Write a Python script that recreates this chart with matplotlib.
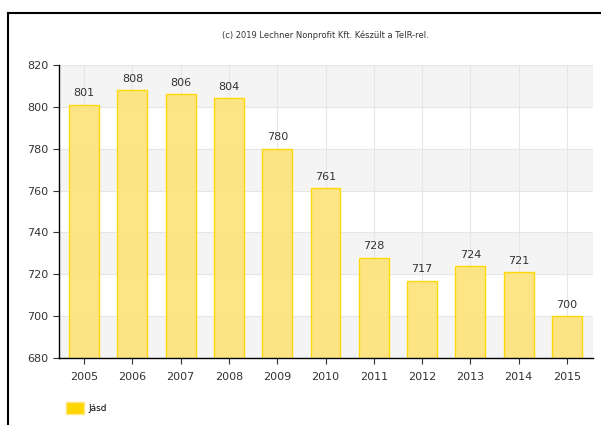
import matplotlib
matplotlib.use("Agg")
import matplotlib.pyplot as plt
from matplotlib.lines import Line2D
from matplotlib.patches import Patch

# adatok
evek = ['2005', '2006', '2007', '2008', '2009', '2010', '2011', '2012', '2013', '2014', '2015']
ertekek = [801, 808, 806, 804, 780, 761, 728, 717, 724, 721, 700]
sorozat = 'Jásd'
forras = '(c) 2019 Lechner Nonprofit Kft. Készült a TeIR-rel.'

W, H = 601, 425
fig = plt.figure(figsize=(W / 100, H / 100), dpi=100)
fig.patch.set_facecolor('white')

# tengely elhelyezése pixelben
x0, x1, y0, y1 = 59, 593, 65, 358
ax = fig.add_axes([x0 / W, 1 - y1 / H, (x1 - x0) / W, (y1 - y0) / H])

# váltakozó sávok
for lo in range(680, 820, 40):
    ax.axhspan(lo, lo + 20, color='#f4f4f4', zorder=0, lw=0)
for v in range(680, 821, 20):
    ax.axhline(v, color='#e6e6e6', lw=0.8, zorder=0.5)

pos = list(range(len(evek)))
for p in pos:
    ax.axvline(p, color='#e6e6e6', lw=0.8, zorder=0.5)

ax.bar(pos, ertekek, width=0.62, bottom=0, color='#fde47f', edgecolor='#ffd700',
       linewidth=1.0, alpha=0.95, zorder=2)
for p, v in zip(pos, ertekek):
    ax.text(p, v + 3, str(v), ha='center', va='bottom', fontsize=8, color='#333333', zorder=3)

ax.set_xlim(-0.52, 10.54)
ax.set_ylim(680, 820)
ax.set_yticks(range(680, 821, 20))
ax.set_xticks(pos)
ax.set_xticklabels(evek)
ax.tick_params(axis='both', labelsize=8, colors='#333333', length=4, width=0.8, direction='out')
ax.tick_params(axis='x', pad=6)
for s in ['top', 'right']:
    ax.spines[s].set_visible(False)
for s in ['left', 'bottom']:
    ax.spines[s].set_color('black')
    ax.spines[s].set_linewidth(1)
ax.set_facecolor('white')

fig.text(325 / W, 1 - 35 / H, forras, ha='center', va='center', fontsize=6, color='#333333')

# jelmagyarázat
fig.legend(handles=[Patch(facecolor='#ffd700', edgecolor='#ffe680', label=sorozat)],
           loc='center left', bbox_to_anchor=(58 / W, 1 - 408 / H), frameon=False,
           fontsize=6.5, handlelength=2.0, handleheight=1.7, handletextpad=0.5)

# keret
fig.add_artist(Line2D([8 / W, 8 / W], [0, 1 - 13 / H], color='black', lw=1.5))
fig.add_artist(Line2D([8 / W, 1], [1 - 13 / H, 1 - 13 / H], color='black', lw=1.5))

fig.savefig('out.png', dpi=100)
